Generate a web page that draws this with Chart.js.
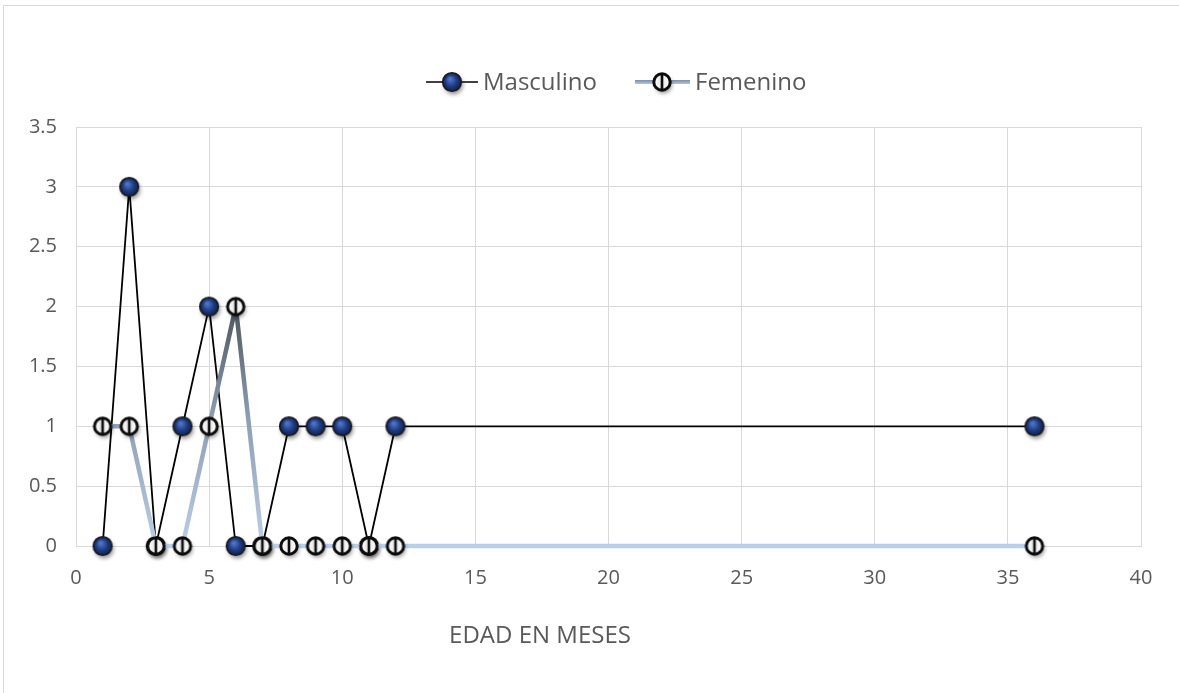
<!DOCTYPE html>
<html>
<head>
<meta charset="utf-8">
<script src="https://cdn.jsdelivr.net/npm/chart.js@4/dist/chart.umd.min.js"></script>
<style>
  html, body { margin: 0; padding: 0; background: #ffffff; }
  #wrap { position: relative; width: 1179px; height: 693px; overflow: hidden; }
  #frame { position: absolute; left: 3px; top: 5px; width: 1200px; height: 720px; border: 1px solid #d9d9d9; box-sizing: border-box; }
  canvas { position: absolute; left: 0; top: 0; }
</style>
</head>
<body>
<div id="wrap">
  <div id="frame"></div>
  <canvas id="chart" width="1179" height="693"></canvas>
</div>
<script>
// Age in months and number of cases per sex
const edadMeses = [1, 2, 3, 4, 5, 6, 7, 8, 9, 10, 11, 12, 36];
const masculino = [0, 3, 0, 1, 2, 0, 0, 1, 1, 1, 0, 1, 1];
const femenino  = [1, 1, 0, 0, 1, 2, 0, 0, 0, 0, 0, 0, 0];
const seriesNames = ['Masculino', 'Femenino'];
const axisTitle = 'EDAD EN MESES';

const TEXT = '#595959';
const GRID = '#d9d9d9';
const FONT = '"Open Sans", "DejaVu Sans", sans-serif';
const MK = 32;          // marker canvas size
const MC = MK / 2;      // marker centre

// Glossy navy marker
function makeBlueMarker() {
  const c = document.createElement('canvas');
  c.width = MK; c.height = MK;
  const g = c.getContext('2d');
  const cx = MC, cy = MC, r = 9.3;
  g.save();
  g.shadowColor = 'rgba(0,0,0,0.45)';
  g.shadowBlur = 4; g.shadowOffsetX = 1.5; g.shadowOffsetY = 3;
  g.beginPath(); g.arc(cx, cy, r, 0, Math.PI * 2);
  g.fillStyle = '#1a2f66'; g.fill();
  g.restore();
  const rg = g.createRadialGradient(cx - 2, cy - 3, 1, cx, cy, r);
  rg.addColorStop(0, '#4f74c4');
  rg.addColorStop(0.55, '#1f3d86');
  rg.addColorStop(1, '#0f1f4a');
  g.beginPath(); g.arc(cx, cy, r, 0, Math.PI * 2);
  g.fillStyle = rg; g.fill();
  g.lineWidth = 1.6; g.strokeStyle = '#1c1c1c'; g.stroke();
  return c;
}

// White ring marker with a vertical bar
function makeRingMarker() {
  const c = document.createElement('canvas');
  c.width = MK; c.height = MK;
  const g = c.getContext('2d');
  const cx = MC, cy = MC, r = 8.2;
  g.save();
  g.shadowColor = 'rgba(0,0,0,0.45)';
  g.shadowBlur = 4; g.shadowOffsetX = 1.5; g.shadowOffsetY = 3;
  g.beginPath(); g.arc(cx, cy, r, 0, Math.PI * 2);
  g.fillStyle = '#ffffff'; g.fill();
  g.restore();
  const lg = g.createLinearGradient(cx - r, 0, cx + r, 0);
  lg.addColorStop(0, '#ffffff');
  lg.addColorStop(0.45, '#e6e6e6');
  lg.addColorStop(1, '#ffffff');
  g.beginPath(); g.arc(cx, cy, r, 0, Math.PI * 2);
  g.fillStyle = lg; g.fill();
  g.lineWidth = 3; g.strokeStyle = '#0d0d0d'; g.stroke();
  g.fillStyle = '#0d0d0d';
  g.fillRect(cx - 1.3, cy - r, 2.6, r * 2);
  return c;
}

const blueMarker = makeBlueMarker();
const ringMarker = makeRingMarker();

// Vertical gradient for the Femenino line: light at 0, dark at the peak
function femGradient(context) {
  const chart = context.chart;
  const { ctx, chartArea, scales } = chart;
  if (!chartArea) return '#b4c7e7';
  const yTop = scales.y.getPixelForValue(Math.max(...femenino));
  const yBot = scales.y.getPixelForValue(0);
  const gr = ctx.createLinearGradient(0, yTop, 0, yBot);
  gr.addColorStop(0, '#4e545c');
  gr.addColorStop(0.45, '#8a9bb3');
  gr.addColorStop(1, '#bccfe8');
  return gr;
}

const toPoints = (xs, ys) => xs.map((x, i) => ({ x: x, y: ys[i] }));

// Legend and axis title drawn directly on the canvas
const decorations = {
  id: 'decorations',
  afterDraw(chart) {
    const ctx = chart.ctx;
    ctx.save();
    const ly = 82;
    // Masculino entry
    ctx.strokeStyle = '#000000'; ctx.lineWidth = 1.6;
    ctx.beginPath(); ctx.moveTo(426, ly); ctx.lineTo(478, ly); ctx.stroke();
    ctx.drawImage(blueMarker, 452 - MC, ly - MC);
    // Femenino entry
    const lg = ctx.createLinearGradient(0, ly - 2, 0, ly + 2);
    lg.addColorStop(0, '#7d8da3'); lg.addColorStop(1, '#b4c7e0');
    ctx.strokeStyle = lg; ctx.lineWidth = 4;
    ctx.beginPath(); ctx.moveTo(635, ly); ctx.lineTo(690, ly); ctx.stroke();
    ctx.drawImage(ringMarker, 662 - MC, ly - MC);

    ctx.fillStyle = TEXT;
    ctx.font = '24px ' + FONT;
    ctx.textBaseline = 'middle';
    ctx.textAlign = 'left';
    ctx.fillText(seriesNames[0], 483, ly + 1);
    ctx.fillText(seriesNames[1], 695, ly + 1);

    ctx.textAlign = 'center';
    ctx.fillText(axisTitle, 540, 636);
    ctx.restore();
  }
};

new Chart(document.getElementById('chart'), {
  type: 'scatter',
  data: {
    datasets: [
      {
        label: seriesNames[0],
        data: toPoints(edadMeses, masculino),
        showLine: true,
        borderColor: '#000000',
        borderWidth: 1.8,
        borderJoinStyle: 'round',
        pointStyle: blueMarker,
        pointRadius: 10,
        pointHoverRadius: 10,
        clip: false,
        order: 2
      },
      {
        label: seriesNames[1],
        data: toPoints(edadMeses, femenino),
        showLine: true,
        borderColor: femGradient,
        borderWidth: 4.5,
        borderJoinStyle: 'round',
        pointStyle: ringMarker,
        pointRadius: 10,
        pointHoverRadius: 10,
        clip: false,
        order: 1
      }
    ]
  },
  options: {
    responsive: false,
    animation: false,
    events: [],
    layout: { padding: { top: 127, right: 38, left: 0, bottom: 0 } },
    plugins: {
      legend: { display: false },
      tooltip: { enabled: false },
      title: { display: false }
    },
    scales: {
      x: {
        type: 'linear',
        min: 0, max: 40,
        afterFit(scale) { scale.height = 147; },
        grid: { color: GRID, lineWidth: 1, drawTicks: false },
        border: { color: GRID, width: 1 },
        ticks: {
          stepSize: 5,
          padding: 20,
          color: TEXT,
          font: { family: FONT, size: 20 },
          maxRotation: 0,
          callback: (v) => String(v)
        }
      },
      y: {
        min: 0, max: 3.5,
        afterFit(scale) { scale.width = 76; },
        grid: { color: GRID, lineWidth: 1, drawTicks: false },
        border: { color: GRID, width: 1 },
        ticks: {
          stepSize: 0.5,
          padding: 19,
          color: TEXT,
          font: { family: FONT, size: 20 },
          callback: (v) => String(v)
        }
      }
    }
  },
  plugins: [decorations]
});
</script>
</body>
</html>
